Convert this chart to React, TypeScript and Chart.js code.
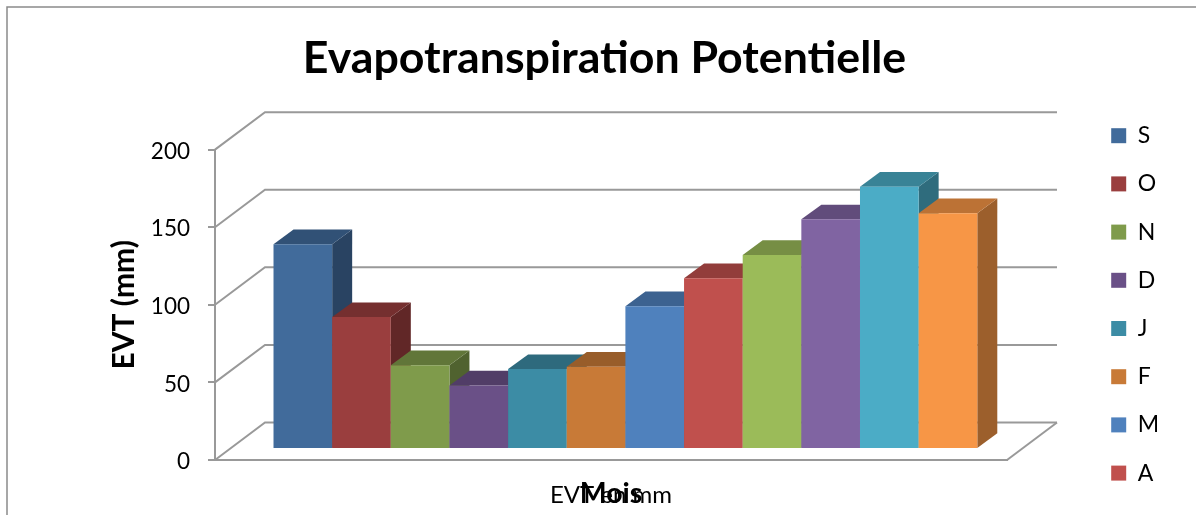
import React, { useEffect, useRef } from "react";
import { Chart, registerables } from "chart.js";

Chart.register(...registerables);

// Monthly potential evapotranspiration, September to August
const categories = ["EVT en mm"];
const months = ["S", "O", "N", "D", "J", "F", "M", "A", "M", "J", "J", "A"];
const evtValues = [132, 85, 54, 41, 51.5, 53, 92, 110, 125, 148, 169, 152];
const barColors = [
  "#416B9B", "#9A3E3E", "#7F9B4B", "#6A5087", "#3C8CA5", "#C87A37",
  "#4F81BD", "#C0504D", "#9BBB59", "#8064A2", "#4BACC6", "#F79646",
];
const yTicks = [0, 50, 100, 150, 200];
const legendRows = 8;

const FONT = "Lato";
const WALL_COLOR = "#999999";
// Oblique projection of the box: back wall and bar depth
const WALL_DX = 50;
const WALL_DY = 37.5;
const BAR_DX = 20;
const BAR_DY = 14.7;
// Bars stand partway into the floor
const BAR_SHIFT_X = 14.4;
const BAR_SHIFT_Y = 11;

function shade(hex: string, k: number) {
  const n = parseInt(hex.slice(1), 16);
  const c = [(n >> 16) & 255, (n >> 8) & 255, n & 255].map((v) => Math.round(v * k));
  return `rgb(${c[0]},${c[1]},${c[2]})`;
}

function poly(ctx: CanvasRenderingContext2D, pts: number[][], fill: string) {
  ctx.fillStyle = fill;
  ctx.beginPath();
  pts.forEach(([x, y], i) => (i ? ctx.lineTo(x, y) : ctx.moveTo(x, y)));
  ctx.closePath();
  ctx.fill();
}

const frame3d = {
  id: "frame3d",
  beforeLayout(chart: any) {
    const legend = chart.legend;
    if (legend.fixedFit) return;
    legend.fixedFit = true;
    const fit = legend.fit;
    // Reserve a wide right-hand column so the plot ends well before the keys
    legend.fit = function () {
      this.maxHeight = chart.height;
      fit.call(this);
      this.width = 189;
    };
  },
  afterLayout(chart: any) {
    const legend = chart.legend;
    legend.left = 1086;
    legend.top = 99;
    legend.bottom = chart.height + 60;
  },
  beforeDraw(chart: any) {
    const { ctx, width, height } = chart;
    ctx.save();
    ctx.strokeStyle = "#8a8a8a";
    ctx.lineWidth = 1.5;
    ctx.beginPath();
    ctx.moveTo(7, height);
    ctx.lineTo(7, 7);
    ctx.lineTo(width, 7);
    ctx.stroke();
    ctx.restore();
  },
  beforeDatasetsDraw(chart: any) {
    const { ctx, chartArea, scales } = chart;
    const { left, right, bottom } = chartArea;
    ctx.save();
    ctx.strokeStyle = WALL_COLOR;
    ctx.lineWidth = 2;
    yTicks.forEach((v) => {
      const y = scales.y.getPixelForValue(v);
      ctx.beginPath();
      ctx.moveTo(left, y);
      ctx.lineTo(left + WALL_DX, y - WALL_DY);
      ctx.lineTo(right + WALL_DX, y - WALL_DY);
      ctx.stroke();
    });
    ctx.beginPath();
    ctx.moveTo(right, bottom);
    ctx.lineTo(right + WALL_DX, bottom - WALL_DY);
    ctx.stroke();

    // Each bar: side, then top, then front, left to right so neighbours overlap
    ctx.translate(BAR_SHIFT_X, -BAR_SHIFT_Y);
    chart.data.datasets.forEach((ds: any, i: number) => {
      const bar = chart.getDatasetMeta(i).data[0];
      const { x, y, base, width } = bar.getProps(["x", "y", "base", "width"], true);
      const l = x - width / 2;
      const r = x + width / 2;
      const color = ds.backgroundColor;
      poly(ctx, [[r, y], [r + BAR_DX, y - BAR_DY], [r + BAR_DX, base - BAR_DY], [r, base]], shade(color, 0.63));
      poly(ctx, [[l, y], [l + BAR_DX, y - BAR_DY], [r + BAR_DX, y - BAR_DY], [r, y]], shade(color, 0.76));
      bar.draw(ctx);
    });
    ctx.restore();
    return false;
  },
};

export default function App() {
  const ref = useRef<HTMLCanvasElement>(null);

  useEffect(() => {
    document.body.style.margin = "0";
    const chart = new Chart(ref.current!, {
      type: "bar",
      data: {
        labels: categories,
        datasets: months.map((m, i) => ({
          label: m,
          data: [evtValues[i]],
          backgroundColor: barColors[i],
          borderWidth: 0,
          categoryPercentage: 0.8886,
          barPercentage: 1,
        })),
      },
      options: {
        responsive: false,
        animation: false,
        layout: { padding: { left: 13, right: 0, top: 0, bottom: 0 } },
        plugins: {
          tooltip: { enabled: false },
          title: {
            display: true,
            text: "Evapotranspiration Potentielle",
            color: "#000",
            font: { family: FONT, size: 44.7, weight: "bold" },
            padding: { top: 31.5, bottom: 64.5 },
          },
          legend: {
            position: "right",
            align: "start",
            labels: {
              filter: (item: any) => item.datasetIndex < legendRows,
              boxWidth: 15,
              boxHeight: 15,
              padding: 25.2,
              color: "#000",
              font: { family: FONT, size: 23 },
            },
          },
        },
        scales: {
          x: {
            afterFit: (s: any) => {
              s.height = 55;
            },
            grid: { drawOnChartArea: false, drawTicks: false },
            border: { color: WALL_COLOR, width: 2 },
            ticks: { color: "#000", padding: 21, font: { family: FONT, size: 24 } },
            title: {
              display: true,
              text: "Mois",
              color: "#000",
              font: { family: FONT, size: 28.5, weight: "bold" },
              padding: { top: 0, bottom: 4 },
            },
          },
          y: {
            min: 0,
            max: 200,
            afterFit: (s: any) => {
              s.width = 202;
            },
            afterBuildTicks: (s: any) => {
              s.ticks = yTicks.map((value) => ({ value }));
            },
            grid: { drawOnChartArea: false, tickLength: 7, color: WALL_COLOR, lineWidth: 2 },
            border: { color: WALL_COLOR, width: 2 },
            ticks: { color: "#000", padding: 18, labelOffset: 2, font: { family: FONT, size: 22.5 } },
            title: {
              display: true,
              text: "EVT (mm)",
              color: "#000",
              font: { family: FONT, size: 30, weight: "bold" },
              padding: { top: 93.5, bottom: 0 },
            },
          },
        },
      },
      plugins: [frame3d],
    } as any);
    return () => chart.destroy();
  }, []);

  return <canvas ref={ref} width={1196} height={515} style={{ display: "block" }} />;
}
